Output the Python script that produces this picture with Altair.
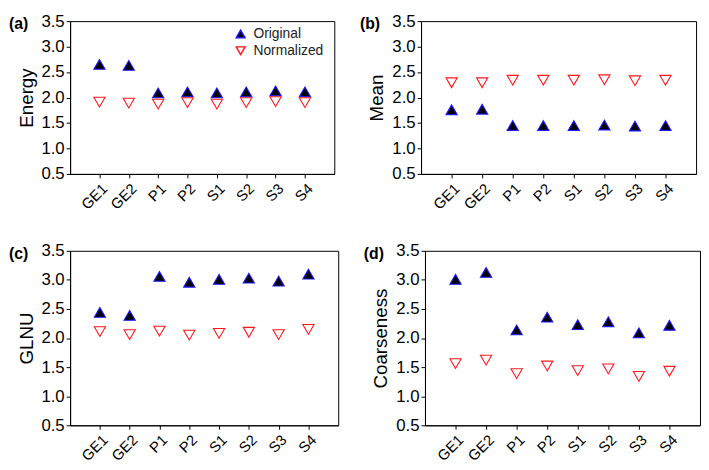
import altair as alt
import pandas as pd

categories = ["GE1", "GE2", "P1", "P2", "S1", "S2", "S3", "S4"]
series = ["Original", "Normalized"]

energy_orig = [2.65, 2.63, 2.09, 2.11, 2.09, 2.11, 2.13, 2.11]
energy_norm = [1.91, 1.89, 1.87, 1.90, 1.87, 1.90, 1.92, 1.90]

mean_orig = [1.76, 1.77, 1.45, 1.45, 1.45, 1.46, 1.44, 1.45]
mean_norm = [2.29, 2.29, 2.34, 2.34, 2.34, 2.35, 2.33, 2.34]

glnu_orig = [2.44, 2.39, 3.06, 2.96, 3.01, 3.03, 2.98, 3.10]
glnu_norm = [2.11, 2.06, 2.12, 2.05, 2.08, 2.10, 2.06, 2.15]

coarse_orig = [3.01, 3.13, 2.14, 2.36, 2.23, 2.28, 2.09, 2.22]
coarse_norm = [1.56, 1.62, 1.39, 1.52, 1.44, 1.47, 1.34, 1.43]

y_ticks = [0.5, 1.0, 1.5, 2.0, 2.5, 3.0, 3.5]

FONT = "Liberation Sans"


def panel(orig, norm, ytitle, label, show_legend, w, h):
    df = pd.DataFrame({
        "cat": categories * 2,
        "value": orig + norm,
        "series": [series[0]] * len(orig) + [series[1]] * len(norm),
    })
    if show_legend:
        leg = alt.Legend(title=None, orient="none", legendX=166, legendY=6,
                         labelFontSize=14, labelFont=FONT, symbolSize=80,
                         rowPadding=3, labelColor="#222222", padding=0, labelOffset=6)
    else:
        leg = None
    chart = alt.Chart(df).mark_point(size=130, strokeWidth=1.1, opacity=1, filled=False).encode(
        x=alt.X("cat:N", sort=categories, scale=alt.Scale(type="point", padding=1),
                axis=alt.Axis(title=None, labelAngle=-45, labelFontSize=15, labelFont=FONT,
                              tickSize=4, labelPadding=3, grid=False)),
        y=alt.Y("value:Q", scale=alt.Scale(domain=[0.5, 3.5], nice=False, zero=False),
                axis=alt.Axis(title=ytitle, values=y_ticks, format=".1f", labelFontSize=17,
                              labelFont=FONT, titleFont=FONT, titleFontSize=19,
                              titleFontWeight="normal", titlePadding=5, tickSize=4,
                              grid=False, labelPadding=2)),
        shape=alt.Shape("series:N", scale=alt.Scale(domain=series, range=["triangle-up", "triangle-down"]), legend=leg),
        fill=alt.Fill("series:N", scale=alt.Scale(domain=series, range=["#000000", "#ffffff"]), legend=leg),
        stroke=alt.Stroke("series:N", scale=alt.Scale(domain=series, range=["#1a1aff", "#ff1a1a"]), legend=leg),
    ).properties(
        width=w, height=h,
        title=alt.TitleParams(text=label, anchor="start", frame="group", fontSize=16,
                              fontWeight="bold", font=FONT, dx=-62, offset=-20),
    )
    return chart


a = panel(energy_orig, energy_norm, "Energy", "(a)", True, 268, 155)
b = panel(mean_orig, mean_norm, "Mean", "(b)", False, 279, 155)
c = panel(glnu_orig, glnu_norm, "GLNU", "(c)", False, 272, 177)
d = panel(coarse_orig, coarse_norm, "Coarseness", "(d)", False, 279, 177)

top = alt.hconcat(a, b, spacing=24)
bottom = alt.hconcat(c, d, spacing=24)

chart = alt.vconcat(top, bottom, spacing=28).resolve_legend(
    shape="independent", fill="independent", stroke="independent"
).configure(
    padding=0, background="white"
).configure_view(
    stroke="black", strokeWidth=1
).configure_axis(
    domainColor="black", tickColor="black", labelColor="black", titleColor="black"
)

chart.save("out.html", embed_options={"renderer": "svg", "actions": False})
